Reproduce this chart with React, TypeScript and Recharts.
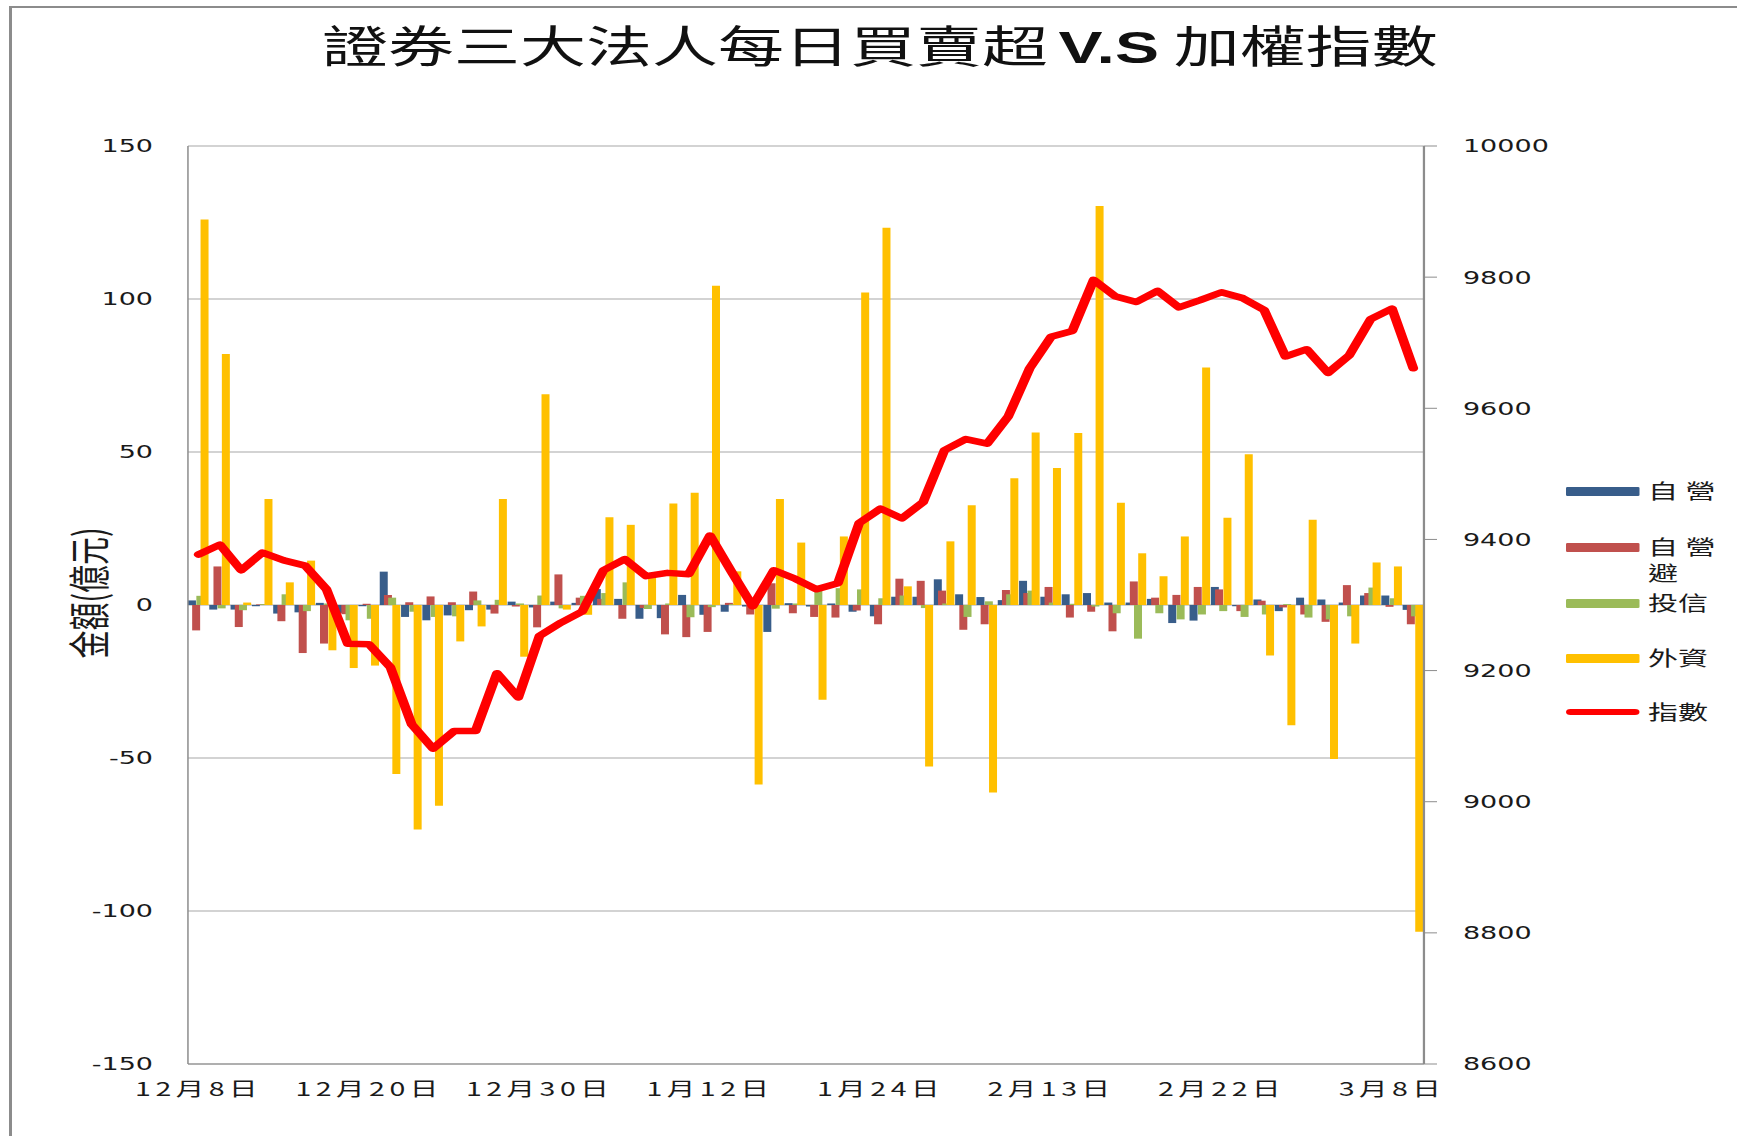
import React from 'react';
import { ComposedChart, Bar, Line, XAxis, YAxis, CartesianGrid, Legend } from 'recharts';

const dates = [
  '12月8日', '12月9日', '12月12日', '12月13日', '12月14日', '12月15日', '12月16日', '12月19日',
  '12月20日', '12月21日', '12月22日', '12月23日', '12月26日', '12月27日', '12月28日', '12月29日',
  '12月30日', '1月3日', '1月4日', '1月5日', '1月6日', '1月9日', '1月10日', '1月11日',
  '1月12日', '1月13日', '1月16日', '1月17日', '1月18日', '1月19日', '1月20日', '1月23日',
  '1月24日', '2月2日', '2月3日', '2月6日', '2月7日', '2月8日', '2月9日', '2月10日',
  '2月13日', '2月14日', '2月15日', '2月16日', '2月17日', '2月18日', '2月20日', '2月21日',
  '2月22日', '2月23日', '2月24日', '3月1日', '3月2日', '3月3日', '3月6日', '3月7日',
  '3月8日', '3月9日',
];

// 自營
const dealer = [
  1.5, -1.5, -1.5, -0.4, -2.8, -2.4, 0.7, -2.6, -0.4, 10.9, -3.9, -5.0, -3.4, -1.7, -1.5, 1.1,
  -0.8, 1.1, 0.7, 5.2, 2.0, -4.5, -4.3, 3.3, -3.2, -2.2, -0.5, -8.8, 0.6, -0.5, 0.5, -2.2,
  -3.7, 2.7, 2.7, 8.4, 3.5, 2.6, 1.6, 7.9, 2.7, 3.5, 3.9, 0.8, 0.8, 2.0, -5.9, -5.1,
  5.9, -0.4, 1.8, -2.0, 2.4, 1.8, 0.8, 3.1, 3.1, -1.6,
];

// 自營避險
const hedge = [
  -8.3, 12.6, -7.2, 0.2, -5.3, -15.7, -12.6, -3.0, 0.4, 3.3, 0.9, 2.8, 0.9, 4.4, -2.8, -0.5,
  -7.3, 10.0, 2.4, 2.0, -4.5, -1.0, -9.6, -10.5, -8.8, 0.7, -3.1, 7.1, -2.7, -3.9, -4.1, -1.8,
  -6.3, 8.6, 7.9, 4.7, -8.1, -6.3, 4.9, 3.9, 5.9, -4.1, -2.2, -8.6, 7.7, 2.4, 3.3, 5.9,
  5.1, -2.0, 1.4, -0.8, -3.1, -5.5, 6.5, 3.9, -0.6, -6.3,
];

// 投信
const trust = [
  3.0, -1.1, -1.7, 0.3, 3.5, -2.0, 0.5, -5.0, -4.5, 2.4, -2.2, -3.9, -3.7, 1.5, 1.7, 0.5,
  3.1, -1.1, 3.0, 3.9, 7.4, -1.3, 0.5, -4.0, -0.7, 0.3, -0.5, -1.2, 0.5, 6.3, 5.5, 5.1,
  2.2, 3.1, -1.0, 0.5, -3.9, 1.2, 3.5, 4.7, 0.8, 0.4, -0.5, -2.7, -11.0, -2.7, -4.7, -3.1,
  -2.0, -3.9, -3.1, 0.3, -4.1, -4.7, -3.7, 5.7, 2.2, -3.7,
];

// 外資
const foreign = [
  126, 82, 0.8, 34.6, 7.4, 14.5, -14.8, -20.6, -19.8, -55.2, -73.4, -65.6, -11.9, -7.0, 34.6, -16.9,
  68.9, -1.5, -3.2, 28.7, 26.2, 9.4, 33.2, 36.7, 104.3, 11, -58.7, 34.6, 20.4, -31, 22.4, 102.1,
  123.3, 6.1, -52.8, 20.8, 32.6, -61.3, 41.4, 56.4, 44.8, 56.2, 130.4, 33.4, 16.9, 9.4, 22.4, 77.6,
  28.5, 49.3, -16.5, -39.3, 27.9, -50.3, -12.6, 13.9, 12.6, -106.8,
];

// 加權指數
const taiex = [
  9377, 9392, 9353, 9380, 9368, 9360, 9324, 9241, 9240, 9205, 9118, 9081, 9108, 9108, 9196, 9159,
  9253, 9273, 9290, 9353, 9370, 9344, 9349, 9347, 9406, 9351, 9298, 9353, 9340, 9324, 9333, 9425,
  9447, 9432, 9457, 9536, 9553, 9546, 9588, 9661, 9709, 9718, 9796, 9771, 9762, 9779, 9754, 9765,
  9777, 9768, 9750, 9679, 9690, 9654, 9681, 9736, 9752, 9661,
];

const leftTicks = [-150, -100, -50, 0, 50, 100, 150];
const rightTicks = [8600, 8800, 9000, 9200, 9400, 9600, 9800, 10000];

const data = dates.map((d, i) => ({
  date: d,
  dealer: dealer[i],
  hedge: hedge[i],
  trust: trust[i],
  foreign: foreign[i],
  taiex: taiex[i],
}));

const SX = 1.5;
const W = 1158;
const H = 1136;
const CJK = '"Noto Sans CJK TC", "Noto Sans", sans-serif';
const NUM = '"DejaVu Sans", sans-serif';
const AXIS = '#8c8c8c';
const GRID = '#a8a8a8';
const TXT = '#1a1a1a';

const ORDER = ['dealer', 'hedge', 'trust', 'foreign', 'taiex'];
const ITEM_TOPS = [0, 56, 112, 167, 221];

function LegendContent(props: any) {
  const payload: any[] = props.payload || [];
  const items = ORDER.map((k) => payload.find((p) => p.dataKey === k)).filter(Boolean);
  return (
    <div style={{ position: 'relative', width: 118, height: 250 }}>
      {items.map((it: any, i: number) => {
        const isLine = it.dataKey === 'taiex';
        const spaced = String(it.value).startsWith('自營');
        return (
          <div key={it.dataKey} style={{ position: 'absolute', left: 0, top: ITEM_TOPS[i], width: 118 }}>
            <div
              style={{
                position: 'absolute',
                left: 4,
                top: isLine ? 10 : 8.5,
                width: 49,
                height: isLine ? 6 : 9,
                background: it.color,
                borderRadius: isLine ? 3 : 1,
              }}
            />
            <div
              style={{
                position: 'absolute',
                left: 58.7,
                top: 0,
                width: 56,
                fontSize: 20,
                lineHeight: '26px',
                letterSpacing: spaced ? 5 : 0,
                color: TXT,
                fontFamily: CJK,
              }}
            >
              {it.value}
            </div>
          </div>
        );
      })}
    </div>
  );
}

export default function App() {
  return (
    <div
      style={{
        position: 'absolute',
        left: 0,
        top: 0,
        width: W,
        height: H,
        background: '#ffffff',
        transform: `scaleX(${SX})`,
        transformOrigin: '0 0',
        overflow: 'hidden',
      }}
    >
      <div
        style={{
          position: 'absolute',
          left: 5.7,
          top: 6,
          width: W,
          height: H,
          borderLeft: `2px solid ${AXIS}`,
          borderTop: `2px solid ${AXIS}`,
          boxSizing: 'border-box',
        }}
      />
      <ComposedChart
        width={W}
        height={H}
        data={data}
        margin={{ top: 146, right: 148.7, bottom: 32, left: 0 }}
        barSize={5.33}
        barGap={-2.53}
      >
        <CartesianGrid yAxisId="left" vertical={false} stroke={GRID} strokeWidth={1} />
        <XAxis
          dataKey="date"
          interval={7}
          tickLine={false}
          tickSize={0}
          tickMargin={19}
          height={40}
          axisLine={{ stroke: AXIS }}
          tick={{ fontSize: 19, fill: TXT, fontFamily: CJK, letterSpacing: 3 }}
        />
        <YAxis
          yAxisId="left"
          domain={[-150, 150]}
          ticks={leftTicks}
          width={125.3}
          tickLine={false}
          tickSize={0}
          tickMargin={23.3}
          axisLine={{ stroke: AXIS }}
          tick={{ fontSize: 18, fill: TXT, fontFamily: NUM }}
        />
        <YAxis
          yAxisId="right"
          orientation="right"
          domain={[8600, 10000]}
          ticks={rightTicks}
          width={60}
          tickSize={8.7}
          tickMargin={17.3}
          tickLine={{ stroke: AXIS }}
          axisLine={{ stroke: AXIS, strokeWidth: 1.5 }}
          tick={{ fontSize: 18, fill: TXT, fontFamily: NUM }}
        />
        <Legend
          layout="vertical"
          align="center"
          verticalAlign="middle"
          content={<LegendContent />}
          wrapperStyle={{ left: 1040, top: 478, width: 118, height: 250 }}
        />
        <Bar yAxisId="left" dataKey="dealer" name="自營" fill="#385D8A" isAnimationActive={false} />
        <Bar yAxisId="left" dataKey="hedge" name="自營避" fill="#C0504D" isAnimationActive={false} />
        <Bar yAxisId="left" dataKey="trust" name="投信" fill="#9BBB59" isAnimationActive={false} />
        <Bar yAxisId="left" dataKey="foreign" name="外資" fill="#FFC000" isAnimationActive={false} />
        <Line
          yAxisId="right"
          dataKey="taiex"
          name="指數"
          type="linear"
          stroke="#FF0000"
          strokeWidth={6.5}
          strokeLinejoin="round"
          strokeLinecap="round"
          dot={false}
          activeDot={false}
          isAnimationActive={false}
        />
      </ComposedChart>
      <div
        style={{
          position: 'absolute',
          left: 0,
          top: 22,
          width: 1173.2,
          textAlign: 'center',
          fontSize: 44,
          lineHeight: 1,
          whiteSpace: 'nowrap',
          color: '#111',
          fontFamily: CJK,
          fontWeight: 400,
        }}
      >
        證券三大法人每日買賣超
        <span style={{ fontWeight: 700, fontFamily: '"Liberation Sans", sans-serif', marginLeft: 7 }}>V.S</span> 加權指數
      </div>
      <div
        style={{
          position: 'absolute',
          left: 57.6,
          top: 593,
          transform: 'translate(-50%, -50%) rotate(-90deg)',
          fontSize: 28,
          lineHeight: 1,
          whiteSpace: 'nowrap',
          color: TXT,
          fontFamily: CJK,
        }}
      >
        金額(億元)
      </div>
    </div>
  );
}
